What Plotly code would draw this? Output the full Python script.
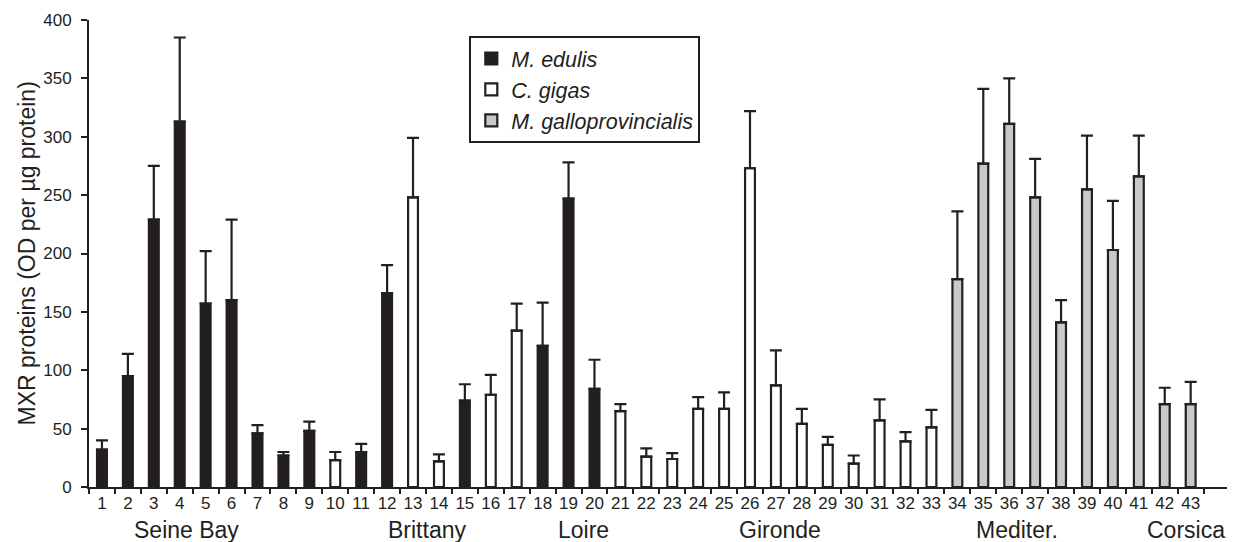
import plotly.graph_objects as go

# ---- data ----
sites = [str(i) for i in range(1, 44)]
mxr_mean = [32, 95, 229, 313, 157, 160, 46, 27, 48, 23, 30, 166, 248, 22, 74,
            79, 134, 121, 247, 84, 65, 26, 24, 67, 67, 273, 87, 54, 36, 20,
            57, 39, 51, 178, 277, 311, 248, 141, 255, 203, 266, 71, 71]
mxr_err = [8, 19, 46, 72, 45, 69, 7, 3, 8, 7, 7, 24, 51, 6, 14,
           17, 23, 37, 31, 25, 6, 7, 5, 10, 14, 49, 30, 13, 7, 7,
           18, 8, 15, 58, 64, 39, 33, 19, 46, 42, 35, 14, 19]
species_of_site = (["M. edulis"] * 9 + ["C. gigas"] + ["M. edulis"] * 2 +
                   ["C. gigas"] * 2 + ["M. edulis"] + ["C. gigas"] * 2 +
                   ["M. edulis"] * 3 + ["C. gigas"] * 13 +
                   ["M. galloprovincialis"] * 10)
species_names = ["M. edulis", "C. gigas", "M. galloprovincialis"]
region_names = ["Seine Bay", "Brittany", "Loire", "Gironde", "Mediter.", "Corsica"]

# ---- styling ----
INK = "#231f20"
fills = {"M. edulis": INK, "C. gigas": "#ffffff", "M. galloprovincialis": "#c8c9ca"}
region_pos = [3.25, 12.55, 18.56, 26.14, 35.31, 41.82]  # category index positions
FONT = "Liberation Sans, Arial, Helvetica, sans-serif"

fig = go.Figure()
for sp in species_names:
    xs = [s for s, k in zip(sites, species_of_site) if k == sp]
    ys = [v for v, k in zip(mxr_mean, species_of_site) if k == sp]
    es = [e for e, k in zip(mxr_err, species_of_site) if k == sp]
    fig.add_trace(go.Bar(
        x=xs, y=ys, name=sp, width=0.38,
        marker=dict(color=fills[sp], line=dict(color=INK, width=2.2)),
        error_y=dict(type="data", array=es, arrayminus=[0] * len(es),
                     symmetric=False, color=INK, thickness=2.2, width=6),
    ))

for name, pos in zip(region_names, region_pos):
    fig.add_annotation(x=pos, xref="x", y=-0.092, yref="paper", yanchor="middle",
                       text=name, showarrow=False,
                       font=dict(size=23, color=INK, family=FONT))

fig.add_annotation(x=(26 - 89) / 1138, xref="paper", y=0.5, yref="paper",
                   text="MXR proteins (OD per µg protein)", textangle=-90,
                   showarrow=False, xanchor="center", yanchor="middle",
                   font=dict(size=23, color=INK, family=FONT))

fig.update_layout(
    width=1256, height=542,
    margin=dict(l=89, r=29, t=20, b=55),
    plot_bgcolor="white", paper_bgcolor="white",
    barmode="overlay",
    font=dict(family=FONT, color=INK, size=17),
    legend=dict(x=(469.3 - 89) / 1138, y=0.9657, xanchor="left", yanchor="top",
                bordercolor=INK, borderwidth=2, bgcolor="white",
                font=dict(size=21.5, style="italic", color=INK, family=FONT),
                traceorder="normal"),
    xaxis=dict(type="category", categoryorder="array", categoryarray=sites,
               tickson="boundaries", ticks="outside", ticklen=5, tickwidth=2,
               tickcolor=INK, showline=True, linecolor=INK, linewidth=2,
               showgrid=False, tickfont=dict(size=17), zeroline=False,
               tickangle=0),
    yaxis=dict(range=[0, 400], tickvals=list(range(0, 401, 50)),
               ticks="outside", ticklen=6, tickwidth=2, tickcolor=INK,
               showline=True, linecolor=INK, linewidth=2, showgrid=False,
               zeroline=False, tickfont=dict(size=17), ticklabelstandoff=6),
)

fig.write_html("out.html", config={"displayModeBar": False},
               post_script="document.body.style.margin='0px';")
